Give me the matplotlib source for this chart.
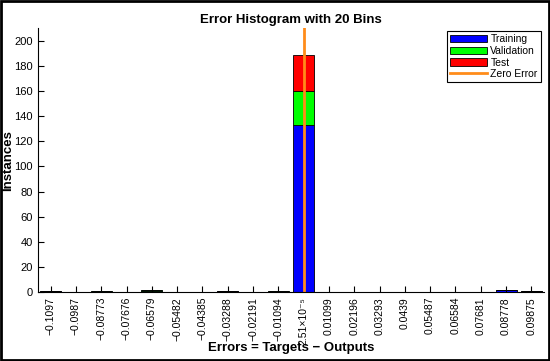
import matplotlib
matplotlib.use("Agg")
import matplotlib.pyplot as plt
import numpy as np
from matplotlib.patches import Rectangle

plt.rcParams['font.family'] = ['Liberation Sans', 'DejaVu Sans']

bin_centers = np.array([-0.1097, -0.0987, -0.08773, -0.07676, -0.06579, -0.05482, -0.04385,
                        -0.03288, -0.02191, -0.01094, 2.51e-5, 0.01099, 0.02196, 0.03293,
                        0.0439, 0.05487, 0.06584, 0.07681, 0.08778, 0.09875])
tick_labels = ['\u22120.1097', '\u22120.0987', '\u22120.08773', '\u22120.07676', '\u22120.06579',
               '\u22120.05482', '\u22120.04385', '\u22120.03288', '\u22120.02191', '\u22120.01094',
               '2.51\u00d710\u207b\u2075', '0.01099', '0.02196', '0.03293', '0.0439',
               '0.05487', '0.06584', '0.07681', '0.08778', '0.09875']
training = np.array([1, 0, 0, 0, 1, 0, 0, 1, 0, 0, 133, 0, 0, 0, 0, 0, 0, 0, 2, 1])
validation = np.array([0, 0, 1, 0, 1, 0, 0, 0, 0, 1, 27, 0, 0, 0, 0, 0, 0, 0, 0, 0])
test = np.array([0, 0, 0, 0, 0, 0, 0, 0, 0, 0, 29, 0, 0, 0, 0, 0, 0, 0, 0, 0])
zero_error = 0.0

fig = plt.figure(figsize=(5.5, 3.61), dpi=100)
ax = fig.add_axes([0.069, 0.191, 0.92, 0.731])

w = (bin_centers[-1] - bin_centers[0]) / 19
bw = w * 0.83
b1 = ax.bar(bin_centers, training, width=bw, color='#0000FF', edgecolor='black', linewidth=0.6, label='Training')
b2 = ax.bar(bin_centers, validation, width=bw, bottom=training, color='#00FF00', edgecolor='black',
            linewidth=0.6, label='Validation')
b3 = ax.bar(bin_centers, test, width=bw, bottom=training + validation, color='#FF0000', edgecolor='black',
            linewidth=0.6, label='Test')
zl = ax.axvline(zero_error, color='#FF8C1A', linewidth=2, label='Zero Error')

ax.set_xlim(bin_centers[0] - 0.5 * w, bin_centers[-1] + 0.5 * w)
ax.set_ylim(0, 210)
ax.set_yticks(np.arange(0, 201, 20))
ax.set_xticks(bin_centers)
ax.set_xticklabels(tick_labels, rotation=90, fontsize=7.5)
ax.tick_params(axis='y', labelsize=8)
ax.tick_params(direction='in', length=4, width=0.8)
ax.spines['top'].set_visible(False)
ax.spines['right'].set_visible(False)

ax.set_title('Error Histogram with 20 Bins', fontsize=9.5, fontweight='bold', pad=4)
ax.set_xlabel('Errors = Targets \u2212 Outputs', fontsize=9.5, fontweight='bold', va='center')
ax.xaxis.set_label_coords(0.5, -0.212)
ax.set_ylabel('Instances', fontsize=9.5, fontweight='bold', va='center')
ax.yaxis.set_label_coords(-0.059, 0.5)

leg = ax.legend(handles=[b1, b2, b3, zl], loc='upper right', fontsize=7.5, fancybox=False, framealpha=1,
                edgecolor='black', borderpad=0.3, labelspacing=0.15, handlelength=3.6,
                handletextpad=0.3, borderaxespad=0.3)
leg.get_frame().set_linewidth(0.8)

fig.patches.append(Rectangle((0.002, 0.003), 0.996, 0.994, transform=fig.transFigure,
                             fill=False, edgecolor='black', linewidth=2))

fig.savefig('out.png', dpi=100)
